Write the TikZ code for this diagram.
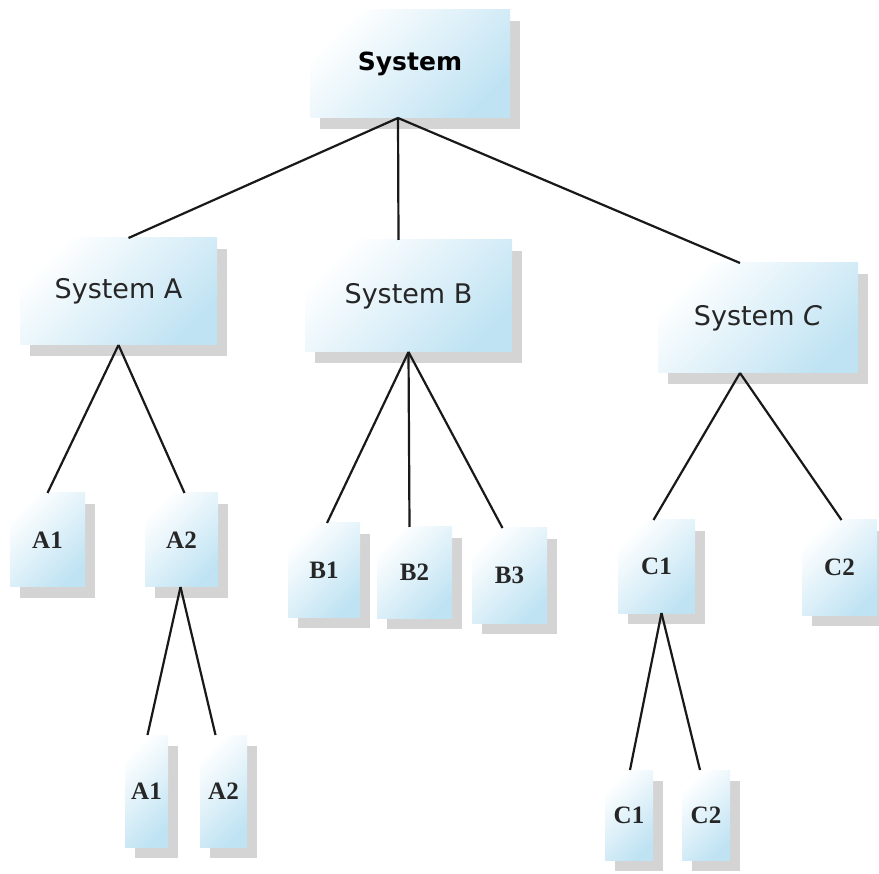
\documentclass[tikz,border=0pt]{standalone}
\usepackage{fontspec}
\setmainfont{Liberation Serif}
\newfontfamily\sysfont{DejaVu Sans}
\usetikzlibrary{shadows}
\definecolor{boxblue}{RGB}{192,227,243}
\definecolor{lineclr}{RGB}{25,25,25}
\tikzset{
  boxbase/.style={inner sep=0pt, outer sep=0pt, top color=white, bottom color=boxblue, shading angle=45,
    drop shadow={shadow xshift=10pt, shadow yshift=-11pt, fill=black!17, opacity=1}},
  sysbox/.style={boxbase, text=black!85, font=\sysfont\fontsize{27}{30}\selectfont},
  topbox/.style={boxbase, font=\sysfont\bfseries\fontsize{25}{30}\selectfont},
  leafbox/.style={boxbase, text=black!85, font=\bfseries\fontsize{25}{28}\selectfont},
  conn/.style={draw=lineclr, line width=2.2pt}
}
\begin{document}
\begin{tikzpicture}[x=1pt,y=-1pt]
\useasboundingbox (0,0) rectangle (879,874);
\fill[white] (0,0) rectangle (879,874);
\begin{scope}
\clip (0,0) rectangle (879,874);
% level 0
\node[topbox, minimum width=200pt, minimum height=108pt] (sys) at (410,64) {System};
% level 1
\node[sysbox, minimum width=197pt, minimum height=107pt] (sa) at (118.5,291.5) {System A};
\node[sysbox, minimum width=207pt, minimum height=112pt] (sb) at (408.5,296) {System B};
\node[sysbox, minimum width=200pt, minimum height=110pt] (sc) at (758,318) {System \textit{C}};
% level 2
\node[leafbox, minimum width=75pt, minimum height=94pt] (a1) at (47.5,540) {A1};
\node[leafbox, minimum width=73pt, minimum height=94pt] (a2) at (181.5,540) {A2};
\node[leafbox, minimum width=72pt, minimum height=94pt] (b1) at (324,570) {B1};
\node[leafbox, minimum width=75pt, minimum height=91pt] (b2) at (414.5,572.5) {B2};
\node[leafbox, minimum width=75pt, minimum height=95pt] (b3) at (509.5,575.5) {B3};
\node[leafbox, minimum width=77pt, minimum height=93pt] (c1) at (656.5,566.5) {C1};
\node[leafbox, minimum width=75pt, minimum height=95pt] (c2) at (839.5,567.5) {C2};
% level 3
\node[leafbox, minimum width=43pt, minimum height=112pt] (a2a) at (146.5,791) {A1};
\node[leafbox, minimum width=47pt, minimum height=112pt] (a2b) at (223.5,791) {A2};
\node[leafbox, minimum width=48pt, minimum height=90pt] (c1a) at (629,815) {C1};
\node[leafbox, minimum width=48pt, minimum height=90pt] (c1b) at (706,815) {C2};
\end{scope}
% connectors
\draw[conn] ([xshift=-12pt]sys.south) -- ([xshift=10pt]sa.north);
\draw[conn] ([xshift=-12pt]sys.south) -- ([xshift=-10pt]sb.north);
\draw[conn] ([xshift=-12pt]sys.south) -- ([xshift=-18pt]sc.north);
\draw[conn] (sa.south) -- (a1.north);
\draw[conn] (sa.south) -- ([xshift=3pt]a2.north);
\draw[conn] (sb.south) -- ([xshift=3pt]b1.north);
\draw[conn] (sb.south) -- ([xshift=-5pt]b2.north);
\draw[conn] (sb.south) -- ([xshift=-7pt]b3.north);
\draw[conn] ([xshift=-18pt]sc.south) -- ([xshift=-3pt]c1.north);
\draw[conn] ([xshift=-18pt]sc.south) -- ([xshift=2pt]c2.north);
\draw[conn] ([xshift=-1pt]a2.south) -- ([xshift=1pt]a2a.north);
\draw[conn] ([xshift=-1pt]a2.south) -- ([xshift=-8pt]a2b.north);
\draw[conn] ([xshift=5pt]c1.south) -- ([xshift=1pt]c1a.north);
\draw[conn] ([xshift=5pt]c1.south) -- ([xshift=-6pt]c1b.north);
\end{tikzpicture}
\end{document}
